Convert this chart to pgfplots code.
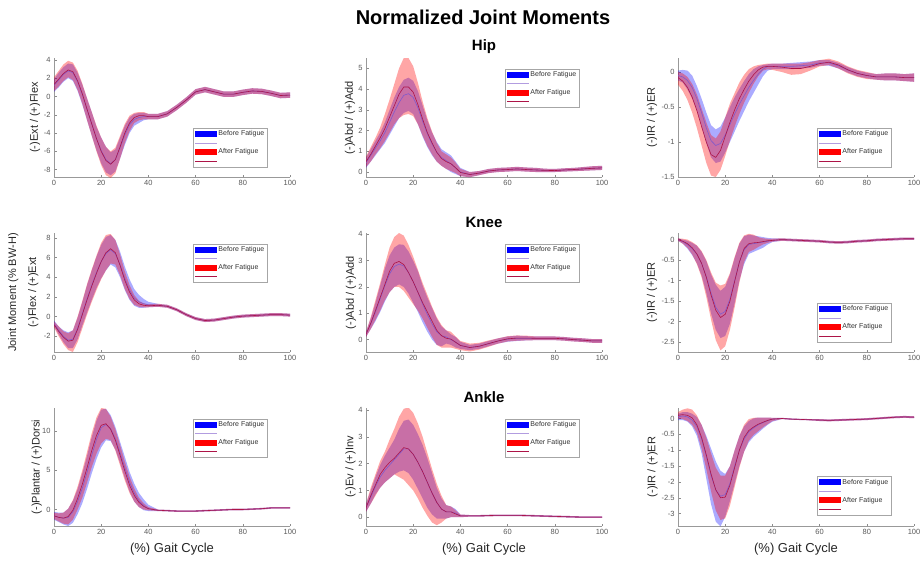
\documentclass[border=0pt]{standalone}
\usepackage{pgfplots}
\pgfplotsset{compat=1.18}
\usepackage{pgfplotstable}
\usepgfplotslibrary{fillbetween}
\usepackage{fontspec}
\setmainfont{Liberation Sans}

\definecolor{bline}{rgb}{0.50,0.35,0.80}
\definecolor{aline}{rgb}{0.68,0.08,0.28}

% x  before(mean,lo,hi)  after(mean,lo,hi)
\pgfplotstableread{
x bm bl bh am al ah
0 1.2 0.5 1.9 1.3 0.6 2.1
2 1.8 1.0 2.6 1.9 1.1 2.8
4 2.4 1.6 3.2 2.5 1.7 3.5
6 2.8 2.0 3.6 2.9 2.1 3.9
8 2.6 1.7 3.5 2.7 1.8 3.7
10 1.6 0.6 2.6 1.7 0.7 2.8
12 0.2 -0.9 1.3 0.3 -0.8 1.4
14 -1.4 -2.6 -0.2 -1.4 -2.6 -0.2
16 -3.0 -4.3 -1.7 -3.0 -4.3 -1.7
18 -4.6 -5.9 -3.3 -4.6 -6.0 -3.2
20 -5.9 -7.3 -4.5 -6.0 -7.5 -4.5
22 -6.9 -8.3 -5.5 -7.0 -8.6 -5.5
24 -7.35 -8.6 -6.1 -7.4 -8.9 -6.0
26 -6.9 -8.2 -5.8 -6.9 -8.4 -5.6
28 -5.6 -6.8 -4.5 -5.5 -6.8 -4.3
30 -4.2 -5.3 -3.2 -4.0 -5.1 -3.0
32 -3.1 -4.0 -2.3 -2.9 -3.8 -2.1
34 -2.5 -3.2 -1.9 -2.3 -2.9 -1.8
36 -2.3 -2.9 -1.8 -2.1 -2.6 -1.7
38 -2.2 -2.6 -1.8 -2.1 -2.5 -1.7
40 -2.2 -2.5 -1.9 -2.2 -2.5 -1.9
44 -2.2 -2.5 -1.9 -2.2 -2.5 -1.9
48 -1.9 -2.2 -1.6 -1.9 -2.2 -1.6
52 -1.2 -1.5 -0.9 -1.2 -1.5 -0.9
56 -0.4 -0.7 -0.1 -0.4 -0.7 -0.1
60 0.5 0.2 0.8 0.5 0.2 0.8
64 0.75 0.45 1.05 0.75 0.45 1.05
68 0.5 0.2 0.8 0.5 0.2 0.8
72 0.25 -0.05 0.55 0.25 -0.05 0.55
76 0.25 -0.05 0.55 0.25 -0.05 0.55
80 0.45 0.15 0.75 0.45 0.15 0.75
84 0.6 0.3 0.9 0.6 0.3 0.9
88 0.55 0.25 0.85 0.55 0.25 0.85
92 0.35 0.05 0.65 0.35 0.05 0.65
96 0.1 -0.2 0.4 0.1 -0.2 0.4
100 0.15 -0.15 0.45 0.15 -0.15 0.45
}\hipfe

\pgfplotstableread{
x bm bl bh am al ah
0 0.45 0.2 0.7 0.5 0.25 0.75
2 0.8 0.5 1.1 0.85 0.5 1.2
4 1.15 0.8 1.5 1.25 0.85 1.65
6 1.5 1.1 1.9 1.65 1.15 2.15
8 1.9 1.4 2.4 2.1 1.5 2.8
10 2.4 1.8 3.0 2.65 1.9 3.5
12 2.9 2.2 3.6 3.2 2.3 4.25
14 3.35 2.6 4.1 3.75 2.6 5.0
16 3.7 2.85 4.45 4.1 2.75 5.5
18 3.78 2.95 4.55 4.1 2.8 5.5
20 3.6 2.8 4.4 3.85 2.7 5.1
22 3.1 2.3 3.9 3.25 2.3 4.3
24 2.45 1.7 3.2 2.55 1.75 3.4
26 1.85 1.2 2.5 1.9 1.25 2.6
28 1.35 0.8 1.9 1.4 0.85 1.95
30 0.95 0.5 1.45 0.95 0.5 1.4
32 0.7 0.3 1.1 0.65 0.3 1.0
34 0.55 0.15 0.95 0.5 0.15 0.85
36 0.4 0.0 0.8 0.4 0.05 0.7
38 0.2 -0.1 0.5 0.2 -0.05 0.45
40 0.0 -0.2 0.2 -0.02 -0.2 0.15
44 -0.12 -0.25 0.0 -0.12 -0.25 0.0
48 -0.05 -0.15 0.05 -0.05 -0.15 0.05
52 0.05 -0.05 0.15 0.05 -0.05 0.15
56 0.1 0.0 0.2 0.1 0.0 0.2
60 0.12 0.02 0.22 0.12 0.02 0.22
64 0.15 0.05 0.25 0.15 0.05 0.25
68 0.12 0.02 0.22 0.12 0.02 0.22
72 0.1 0.0 0.2 0.1 0.0 0.2
76 0.08 0.0 0.16 0.08 0.0 0.16
80 0.07 0.0 0.15 0.07 0.0 0.15
84 0.1 0.02 0.18 0.1 0.02 0.18
88 0.12 0.04 0.2 0.12 0.04 0.2
92 0.15 0.06 0.24 0.15 0.06 0.24
96 0.18 0.08 0.28 0.18 0.08 0.28
100 0.2 0.1 0.3 0.2 0.1 0.3
}\hipaa

\pgfplotstableread{
x bm bl bh am al ah
0 -0.05 -0.12 0.02 -0.08 -0.18 0.0
2 -0.07 -0.15 0.03 -0.13 -0.27 -0.02
4 -0.12 -0.25 0.02 -0.22 -0.4 -0.07
6 -0.22 -0.38 -0.05 -0.36 -0.58 -0.17
8 -0.38 -0.56 -0.2 -0.55 -0.8 -0.32
10 -0.58 -0.78 -0.38 -0.78 -1.05 -0.52
12 -0.8 -1.02 -0.58 -1.0 -1.3 -0.72
14 -0.98 -1.22 -0.76 -1.18 -1.48 -0.9
16 -1.05 -1.3 -0.82 -1.22 -1.5 -0.95
18 -1.02 -1.28 -0.78 -1.12 -1.4 -0.85
20 -0.9 -1.15 -0.65 -0.92 -1.2 -0.65
22 -0.75 -1.0 -0.5 -0.72 -0.98 -0.45
24 -0.6 -0.85 -0.36 -0.54 -0.78 -0.3
26 -0.46 -0.7 -0.24 -0.38 -0.6 -0.15
28 -0.34 -0.56 -0.13 -0.25 -0.44 -0.04
30 -0.22 -0.42 -0.03 -0.13 -0.3 0.04
32 -0.12 -0.3 0.04 -0.04 -0.17 0.08
34 -0.03 -0.18 0.08 0.03 -0.06 0.1
36 0.04 -0.06 0.1 0.07 0.02 0.11
38 0.08 0.02 0.11 0.08 0.04 0.12
40 0.08 0.04 0.12 0.08 0.03 0.12
44 0.08 0.04 0.12 0.07 0.0 0.12
48 0.08 0.04 0.13 0.05 -0.04 0.12
52 0.09 0.05 0.14 0.05 -0.03 0.12
56 0.1 0.06 0.15 0.08 0.02 0.14
60 0.13 0.09 0.17 0.12 0.08 0.17
64 0.13 0.09 0.17 0.14 0.1 0.19
68 0.09 0.05 0.13 0.1 0.05 0.15
72 0.03 -0.01 0.07 0.03 -0.02 0.08
76 -0.02 -0.06 0.02 -0.02 -0.07 0.03
80 -0.05 -0.09 -0.01 -0.05 -0.1 0.0
84 -0.07 -0.11 -0.03 -0.07 -0.11 -0.03
88 -0.07 -0.12 -0.02 -0.07 -0.12 -0.02
92 -0.07 -0.12 -0.02 -0.07 -0.12 -0.02
96 -0.08 -0.13 -0.03 -0.08 -0.13 -0.03
100 -0.08 -0.14 -0.02 -0.08 -0.14 -0.02
}\hipr

\pgfplotstableread{
x bm bl bh am al ah
0 -0.7 -1.0 -0.4 -0.8 -1.1 -0.5
2 -1.4 -1.8 -1.0 -1.5 -2.0 -1.0
4 -2.0 -2.6 -1.4 -2.1 -2.8 -1.5
6 -2.4 -3.2 -1.6 -2.5 -3.4 -1.7
8 -2.3 -3.2 -1.4 -2.4 -3.6 -1.4
10 -1.2 -2.3 -0.1 -1.3 -2.6 0.0
12 0.3 -0.9 1.5 0.2 -1.2 1.6
14 1.8 0.4 3.2 1.7 0.2 3.3
16 3.2 1.7 4.7 3.1 1.5 4.8
18 4.5 2.9 6.1 4.4 2.7 6.2
20 5.6 3.9 7.3 5.6 3.8 7.5
22 6.4 4.7 8.1 6.5 4.7 8.3
24 6.8 5.3 8.3 6.9 5.4 8.4
26 6.4 5.0 7.8 6.5 5.3 7.8
28 5.3 4.0 6.6 5.2 4.2 6.3
30 3.9 2.7 5.1 3.7 2.8 4.6
32 2.7 1.7 3.8 2.5 1.8 3.2
34 1.9 1.1 2.8 1.7 1.2 2.2
36 1.5 0.9 2.2 1.3 1.0 1.6
38 1.3 0.9 1.8 1.15 0.95 1.35
40 1.2 0.95 1.5 1.1 0.95 1.25
44 1.15 1.0 1.3 1.15 1.0 1.3
48 1.05 0.9 1.2 1.05 0.9 1.2
52 0.7 0.55 0.85 0.7 0.55 0.85
56 0.2 0.05 0.35 0.2 0.05 0.35
60 -0.2 -0.35 -0.05 -0.2 -0.35 -0.05
64 -0.4 -0.55 -0.25 -0.4 -0.55 -0.25
68 -0.35 -0.5 -0.2 -0.35 -0.5 -0.2
72 -0.2 -0.35 -0.05 -0.2 -0.35 -0.05
76 -0.05 -0.2 0.1 -0.05 -0.2 0.1
80 0.05 -0.1 0.2 0.05 -0.1 0.2
84 0.1 -0.05 0.25 0.1 -0.05 0.25
88 0.15 0.0 0.3 0.15 0.0 0.3
92 0.2 0.05 0.35 0.2 0.05 0.35
96 0.2 0.05 0.35 0.2 0.05 0.35
100 0.15 0.0 0.3 0.15 0.0 0.3
}\kneefe

\pgfplotstableread{
x bm bl bh am al ah
0 0.2 0.1 0.3 0.2 0.1 0.3
2 0.6 0.4 0.8 0.62 0.4 0.85
4 1.05 0.7 1.4 1.1 0.75 1.5
6 1.55 1.05 2.05 1.6 1.1 2.15
8 2.05 1.45 2.7 2.1 1.5 2.85
10 2.5 1.8 3.2 2.6 1.8 3.5
12 2.78 2.0 3.5 2.9 2.0 3.9
14 2.87 2.1 3.62 2.97 2.0 4.05
16 2.8 2.0 3.6 2.85 1.85 3.95
18 2.55 1.75 3.35 2.55 1.6 3.6
20 2.2 1.4 3.0 2.2 1.35 3.15
22 1.8 1.05 2.6 1.8 1.1 2.65
24 1.35 0.65 2.05 1.4 0.8 2.15
26 0.95 0.3 1.6 1.05 0.45 1.7
28 0.6 0.0 1.2 0.7 0.1 1.25
30 0.3 -0.2 0.8 0.35 -0.2 0.85
32 0.15 -0.25 0.5 0.15 -0.3 0.55
34 0.1 -0.15 0.35 0.05 -0.3 0.35
36 0.0 -0.2 0.2 0.02 -0.3 0.3
38 -0.1 -0.3 0.1 -0.1 -0.35 0.12
40 -0.22 -0.35 -0.08 -0.22 -0.4 -0.05
44 -0.3 -0.4 -0.2 -0.3 -0.45 -0.15
48 -0.25 -0.35 -0.15 -0.25 -0.38 -0.12
52 -0.15 -0.25 -0.05 -0.15 -0.27 -0.03
56 -0.05 -0.15 0.05 -0.05 -0.15 0.05
60 0.02 -0.08 0.12 0.03 -0.07 0.13
64 0.05 -0.05 0.15 0.06 -0.04 0.16
68 0.05 -0.03 0.13 0.06 -0.03 0.15
72 0.05 -0.02 0.12 0.05 -0.02 0.12
76 0.05 -0.02 0.12 0.05 -0.02 0.12
80 0.05 -0.02 0.12 0.05 -0.02 0.12
84 0.03 -0.04 0.1 0.03 -0.04 0.1
88 0.0 -0.07 0.07 0.0 -0.07 0.07
92 -0.02 -0.09 0.05 -0.02 -0.09 0.05
96 -0.05 -0.12 0.02 -0.05 -0.12 0.02
100 -0.05 -0.12 0.02 -0.05 -0.12 0.02
}\kneeaa

\pgfplotstableread{
x bm bl bh am al ah
0 0.0 -0.03 0.03 0.0 -0.03 0.03
2 -0.05 -0.1 0.0 -0.04 -0.1 0.02
4 -0.12 -0.22 -0.03 -0.1 -0.2 0.0
6 -0.22 -0.38 -0.08 -0.2 -0.36 -0.06
8 -0.36 -0.58 -0.15 -0.35 -0.6 -0.14
10 -0.58 -0.88 -0.3 -0.58 -0.92 -0.28
12 -0.9 -1.3 -0.52 -0.92 -1.4 -0.5
14 -1.3 -1.8 -0.85 -1.35 -1.95 -0.8
16 -1.65 -2.2 -1.1 -1.72 -2.45 -1.05
18 -1.82 -2.4 -1.25 -1.9 -2.7 -1.12
20 -1.75 -2.35 -1.15 -1.82 -2.6 -1.08
22 -1.45 -2.05 -0.85 -1.5 -2.2 -0.82
24 -1.0 -1.55 -0.45 -1.02 -1.65 -0.42
26 -0.55 -1.0 -0.1 -0.55 -1.05 -0.08
28 -0.25 -0.6 0.08 -0.22 -0.55 0.1
30 -0.12 -0.35 0.12 -0.1 -0.3 0.14
32 -0.1 -0.3 0.1 -0.08 -0.25 0.12
34 -0.08 -0.25 0.08 -0.07 -0.18 0.06
36 -0.06 -0.2 0.06 -0.05 -0.12 0.03
38 -0.04 -0.12 0.04 -0.03 -0.08 0.02
40 -0.02 -0.06 0.03 -0.02 -0.05 0.02
44 0.0 -0.03 0.03 0.0 -0.03 0.03
48 -0.01 -0.04 0.02 -0.01 -0.04 0.02
52 -0.02 -0.05 0.01 -0.02 -0.05 0.01
56 -0.03 -0.06 0.0 -0.03 -0.06 0.0
60 -0.04 -0.07 -0.01 -0.04 -0.07 -0.01
64 -0.06 -0.09 -0.03 -0.06 -0.09 -0.03
68 -0.07 -0.1 -0.04 -0.07 -0.1 -0.04
72 -0.06 -0.09 -0.03 -0.06 -0.09 -0.03
76 -0.04 -0.07 -0.01 -0.04 -0.07 -0.01
80 -0.03 -0.06 0.0 -0.03 -0.06 0.0
84 -0.01 -0.04 0.02 -0.01 -0.04 0.02
88 0.0 -0.03 0.03 0.0 -0.03 0.03
92 0.01 -0.02 0.04 0.01 -0.02 0.04
96 0.02 -0.01 0.05 0.02 -0.01 0.05
100 0.02 -0.01 0.05 0.02 -0.01 0.05
}\kneer

\pgfplotstableread{
x bm bl bh am al ah
0 -0.8 -1.3 -0.3 -0.8 -1.2 -0.4
2 -1.0 -1.6 -0.4 -1.0 -1.5 -0.5
4 -1.1 -1.9 -0.4 -1.1 -1.8 -0.4
6 -1.0 -2.1 0.1 -0.9 -1.9 0.1
8 -0.3 -1.7 1.1 -0.1 -1.3 1.2
10 1.0 -0.6 2.6 1.4 0.0 2.9
12 2.7 0.8 4.6 3.2 1.5 5.0
14 4.7 2.6 6.8 5.3 3.4 7.3
16 6.9 4.6 9.2 7.5 5.4 9.7
18 8.9 6.4 11.3 9.4 7.1 11.7
20 10.4 7.9 12.7 10.7 8.4 12.9
22 10.8 8.8 12.8 10.9 9.0 12.8
24 10.3 8.7 12.0 10.2 8.8 11.8
26 9.0 7.6 10.5 8.8 7.5 10.2
28 7.2 5.9 8.6 6.9 5.6 8.2
30 5.3 4.0 6.7 4.9 3.7 6.1
32 3.5 2.3 4.8 3.1 2.1 4.2
34 2.1 1.0 3.3 1.8 1.0 2.7
36 1.1 0.3 2.1 0.9 0.3 1.5
38 0.5 -0.1 1.3 0.4 0.0 0.8
40 0.1 -0.2 0.6 0.1 -0.1 0.3
44 -0.1 -0.2 0.0 -0.1 -0.2 0.0
48 -0.15 -0.25 -0.05 -0.15 -0.25 -0.05
52 -0.2 -0.3 -0.1 -0.2 -0.3 -0.1
56 -0.2 -0.3 -0.1 -0.2 -0.3 -0.1
60 -0.2 -0.3 -0.1 -0.2 -0.3 -0.1
64 -0.15 -0.25 -0.05 -0.15 -0.25 -0.05
68 -0.1 -0.2 0.0 -0.1 -0.2 0.0
72 -0.05 -0.15 0.05 -0.05 -0.15 0.05
76 0.0 -0.1 0.1 0.0 -0.1 0.1
80 0.0 -0.1 0.1 0.0 -0.1 0.1
84 0.05 -0.05 0.15 0.05 -0.05 0.15
88 0.1 0.0 0.2 0.1 0.0 0.2
92 0.2 0.1 0.3 0.2 0.1 0.3
96 0.2 0.1 0.3 0.2 0.1 0.3
100 0.2 0.1 0.3 0.2 0.1 0.3
}\anklepd

\pgfplotstableread{
x bm bl bh am al ah
0 0.35 0.2 0.5 0.35 0.2 0.5
2 0.75 0.5 1.0 0.8 0.5 1.1
4 1.15 0.85 1.5 1.2 0.8 1.6
6 1.5 1.1 1.95 1.6 1.1 2.1
8 1.75 1.3 2.3 1.85 1.3 2.45
10 1.95 1.45 2.6 2.05 1.45 2.9
12 2.15 1.6 2.9 2.2 1.6 3.3
14 2.35 1.7 3.3 2.4 1.5 3.75
16 2.55 1.75 3.6 2.6 1.4 4.05
18 2.55 1.65 3.65 2.55 1.2 4.1
20 2.35 1.4 3.45 2.35 1.0 3.9
22 2.05 1.05 3.1 2.05 0.7 3.5
24 1.7 0.7 2.7 1.7 0.35 3.0
26 1.3 0.35 2.2 1.3 0.05 2.4
28 0.9 0.1 1.65 0.9 -0.2 1.8
30 0.55 -0.05 1.1 0.55 -0.3 1.25
32 0.3 -0.05 0.7 0.3 -0.2 0.8
34 0.2 -0.05 0.45 0.2 -0.05 0.45
36 0.2 0.0 0.4 0.2 0.0 0.4
38 0.15 0.0 0.3 0.12 0.0 0.25
40 0.05 0.0 0.1 0.05 0.0 0.1
44 0.05 0.02 0.08 0.05 0.02 0.08
48 0.05 0.02 0.08 0.05 0.02 0.08
52 0.06 0.03 0.09 0.06 0.03 0.09
56 0.07 0.04 0.1 0.07 0.04 0.1
60 0.07 0.04 0.1 0.07 0.04 0.1
64 0.07 0.04 0.1 0.07 0.04 0.1
68 0.06 0.03 0.09 0.06 0.03 0.09
72 0.05 0.02 0.08 0.05 0.02 0.08
76 0.04 0.01 0.07 0.04 0.01 0.07
80 0.03 0.0 0.06 0.03 0.0 0.06
84 0.02 -0.01 0.05 0.02 -0.01 0.05
88 0.01 -0.02 0.04 0.01 -0.02 0.04
92 0.0 -0.03 0.03 0.0 -0.03 0.03
96 0.0 -0.03 0.03 0.0 -0.03 0.03
100 0.0 -0.03 0.03 0.0 -0.03 0.03
}\ankleei

\pgfplotstableread{
x bm bl bh am al ah
0 0.05 -0.05 0.15 0.1 0.0 0.2
2 0.08 -0.05 0.2 0.12 -0.02 0.28
4 0.05 -0.1 0.2 0.1 -0.08 0.32
6 -0.05 -0.25 0.15 0.02 -0.2 0.28
8 -0.25 -0.55 0.05 -0.2 -0.45 0.1
10 -0.65 -1.1 -0.2 -0.6 -0.95 -0.2
12 -1.2 -1.9 -0.55 -1.15 -1.6 -0.6
14 -1.8 -2.7 -0.95 -1.75 -2.3 -1.1
16 -2.25 -3.25 -1.35 -2.25 -2.9 -1.55
18 -2.45 -3.4 -1.65 -2.5 -3.2 -1.8
20 -2.4 -3.1 -1.75 -2.48 -3.15 -1.8
22 -2.05 -2.6 -1.5 -2.1 -2.75 -1.5
24 -1.5 -2.05 -1.0 -1.55 -2.15 -1.0
26 -1.0 -1.5 -0.55 -1.0 -1.55 -0.55
28 -0.65 -1.05 -0.25 -0.6 -1.05 -0.2
30 -0.42 -0.75 -0.08 -0.38 -0.7 -0.02
32 -0.3 -0.58 0.0 -0.27 -0.52 0.02
34 -0.2 -0.45 0.03 -0.18 -0.4 0.03
36 -0.13 -0.32 0.03 -0.12 -0.28 0.03
38 -0.07 -0.2 0.03 -0.06 -0.18 0.03
40 -0.02 -0.1 0.02 -0.02 -0.08 0.02
44 0.0 -0.02 0.02 0.0 -0.02 0.02
48 -0.02 -0.04 0.0 -0.02 -0.04 0.0
52 -0.03 -0.05 -0.01 -0.03 -0.05 -0.01
56 -0.04 -0.06 -0.02 -0.04 -0.06 -0.02
60 -0.05 -0.08 -0.02 -0.05 -0.08 -0.02
64 -0.06 -0.09 -0.03 -0.06 -0.09 -0.03
68 -0.05 -0.08 -0.02 -0.05 -0.08 -0.02
72 -0.04 -0.07 -0.01 -0.04 -0.07 -0.01
76 -0.03 -0.06 0.0 -0.03 -0.06 0.0
80 -0.02 -0.05 0.01 -0.02 -0.05 0.01
84 0.0 -0.03 0.03 0.0 -0.03 0.03
88 0.02 -0.01 0.05 0.02 -0.01 0.05
92 0.04 0.01 0.07 0.04 0.01 0.07
96 0.05 0.02 0.08 0.05 0.02 0.08
100 0.04 0.01 0.07 0.04 0.01 0.07
}\ankler

\newcommand\drawpanel[1]{%
  \addplot[draw=none, name path=BL, forget plot] table[x=x,y=bl]{#1};
  \addplot[draw=none, name path=BH, forget plot] table[x=x,y=bh]{#1};
  \addplot[fill=blue, fill opacity=0.33, draw=none,
    legend image code/.code={\fill[blue,fill opacity=1] (0pt,-3pt) rectangle (22pt,3pt);}]
    fill between[of=BL and BH];
  \addlegendentry{Before Fatigue}
  \addplot[bline, line width=0.6pt,
    legend image code/.code={\draw[bline!60, line width=0.5pt] (0pt,0pt) -- (22pt,0pt);}]
    table[x=x,y=bm]{#1};
  \addlegendentry{}
  \addplot[draw=none, name path=AL, forget plot] table[x=x,y=al]{#1};
  \addplot[draw=none, name path=AH, forget plot] table[x=x,y=ah]{#1};
  \addplot[fill=red, fill opacity=0.35, draw=none,
    legend image code/.code={\fill[red,fill opacity=1] (0pt,-3pt) rectangle (22pt,3pt);}]
    fill between[of=AL and AH];
  \addlegendentry{After Fatigue}
  \addplot[aline, line width=0.6pt,
    legend image code/.code={\draw[aline, line width=0.5pt] (0pt,0pt) -- (22pt,0pt);}]
    table[x=x,y=am]{#1};
  \addlegendentry{}
}

\pgfplotsset{
  panel/.style={
    scale only axis, width=236pt, height=119pt,
    xmin=0, xmax=100, xtick={0,20,40,60,80,100},
    axis x line*=bottom, axis y line*=left,
    axis line style={black!40, line width=0.5pt},
    tick style={black!45, line width=0.4pt},
    major tick length=2.5pt, tick align=inside,
    /pgf/number format/assume math mode=true,
    ticklabel style={font=\fontsize{7.5}{8}\selectfont, text=black!65},
    label style={font=\fontsize{11}{13}\selectfont, text=black!85},
    ylabel style={anchor=center},
    legend cell align=left,
    legend style={draw=black!35, fill=white, line width=0.4pt,
      font=\fontsize{7}{7.5}\selectfont, inner xsep=1.5pt, inner ysep=1.5pt,
      row sep=0.5pt, text=black!80,
      nodes={inner sep=1pt, text height=5pt, text depth=1.5pt}},
  },
  legN/.style={legend style={at={(0.59,0.91)}, anchor=north west}},
  legS/.style={legend style={at={(0.59,0.41)}, anchor=north west}},
}

\begin{document}
\begin{tikzpicture}

% Row 1
\begin{axis}[panel, legS, at={(54pt,-177pt)}, anchor=south west,
  ymin=-8.8, ymax=4.2, ytick={-8,-6,-4,-2,0,2,4},
  ylabel={(-)Ext / (+)Flex}, ylabel style={at={(axis description cs:-0.08,0.5)}}]
\drawpanel{\hipfe}
\end{axis}
\begin{axis}[panel, legN, at={(366pt,-177pt)}, anchor=south west,
  ymin=-0.24, ymax=5.5, ytick={0,1,2,3,4,5},
  ylabel={(-)Abd / (+)Add}, ylabel style={at={(axis description cs:-0.068,0.5)}}]
\drawpanel{\hipaa}
\end{axis}
\begin{axis}[panel, legS, at={(678pt,-177pt)}, anchor=south west,
  ymin=-1.5, ymax=0.2, ytick={-1.5,-1,-0.5,0},
  ylabel={(-)IR / (+)ER}, ylabel style={at={(axis description cs:-0.11,0.5)}}]
\drawpanel{\hipr}
\end{axis}

% Row 2
\begin{axis}[panel, legN, at={(54pt,-352pt)}, anchor=south west,
  ymin=-3.6, ymax=8.5, ytick={-2,0,2,4,6,8},
  ylabel={Joint Moment (\% BW-H)\\[7pt](-)Flex / (+)Ext},
  ylabel style={align=center, at={(axis description cs:-0.13,0.5)}}]
\drawpanel{\kneefe}
\end{axis}
\begin{axis}[panel, legN, at={(366pt,-352pt)}, anchor=south west,
  ymin=-0.47, ymax=4.05, ytick={0,1,2,3,4},
  ylabel={(-)Abd / (+)Add}, ylabel style={at={(axis description cs:-0.063,0.5)}}]
\drawpanel{\kneeaa}
\end{axis}
\begin{axis}[panel, legS, at={(678pt,-352pt)}, anchor=south west,
  ymin=-2.74, ymax=0.16, ytick={-2.5,-2,-1.5,-1,-0.5,0},
  ylabel={(-)IR / (+)ER}, ylabel style={at={(axis description cs:-0.11,0.5)}}]
\drawpanel{\kneer}
\end{axis}

% Row 3
\begin{axis}[panel, legN, at={(54pt,-526pt)}, anchor=south west, height=118pt,
  ymin=-2.1, ymax=12.9, ytick={0,5,10},
  ylabel={(-)Plantar / (+)Dorsi}, ylabel style={at={(axis description cs:-0.073,0.5)}},
  xlabel={(\%) Gait Cycle}, xlabel style={anchor=center, at={(axis description cs:0.5,-0.195)}, font=\fontsize{13}{15}\selectfont}]
\drawpanel{\anklepd}
\end{axis}
\begin{axis}[panel, legN, at={(366pt,-526pt)}, anchor=south west, height=118pt,
  ymin=-0.33, ymax=4.08, ytick={0,1,2,3,4},
  ylabel={(-)Ev / (+)Inv}, ylabel style={at={(axis description cs:-0.066,0.5)}},
  xlabel={(\%) Gait Cycle}, xlabel style={anchor=center, at={(axis description cs:0.5,-0.195)}, font=\fontsize{13}{15}\selectfont}]
\drawpanel{\ankleei}
\end{axis}
\begin{axis}[panel, at={(678pt,-526pt)}, anchor=south west, height=118pt,
  legend style={at={(0.59,0.42)}, anchor=north west},
  ymin=-3.39, ymax=0.33, ytick={-3,-2.5,-2,-1.5,-1,-0.5,0},
  ylabel={(-)IR / (+)ER}, ylabel style={at={(axis description cs:-0.108,0.5)}},
  xlabel={(\%) Gait Cycle}, xlabel style={anchor=center, at={(axis description cs:0.5,-0.195)}, font=\fontsize{13}{15}\selectfont}]
\drawpanel{\ankler}
\end{axis}

\node[font=\bfseries\fontsize{20}{22}\selectfont] at (483pt,-17pt) {Normalized Joint Moments};
\node[font=\bfseries\fontsize{15}{17}\selectfont] at (484pt,-47pt) {Hip};
\node[font=\bfseries\fontsize{15}{17}\selectfont] at (484pt,-222pt) {Knee};
\node[font=\bfseries\fontsize{15}{17}\selectfont] at (484pt,-397pt) {Ankle};

\pgfresetboundingbox
\useasboundingbox (0,0) rectangle (921pt,-563pt);
\end{tikzpicture}
\end{document}
